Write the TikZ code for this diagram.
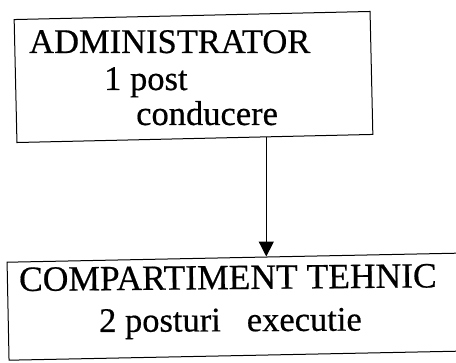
\documentclass[tikz,border=0pt]{standalone}
\usepackage{fontspec}
\setmainfont{Liberation Serif}[FakeBold=0.5]
\usetikzlibrary{arrows.meta,calc}
\begin{document}
\begin{tikzpicture}[x=1pt,y=-1pt,
  boxnode/.style={draw=black,line width=1pt,rectangle,inner sep=0pt},
  label/.style={anchor=base west,inner sep=0pt,font=\fontsize{34.5}{40}\selectfont},
  conn/.style={line width=1.3pt,-{Triangle[width=15pt,length=15pt]}}]
\useasboundingbox (0,0) rectangle (456,363);
\clip (0,0) rectangle (456,363);
\node[boxnode,minimum width=356pt,minimum height=123pt,rotate=1.3] (top) at (193.5,77) {};
\node[boxnode,minimum width=470pt,minimum height=98pt,rotate=1.15] (bot) at (243,306.5) {};
\node[label] (t1) at (29,53) {ADMINISTRATOR};
\node[label] (t2) at (104,90) {1 post};
\node[label] (t3) at (136,125) {conducere};
\node[label,font=\fontsize{35.5}{40}\selectfont,rotate=0.5] (b1) at (19,291) {COMPARTIMENT TEHNIC};
\node[label,rotate=0.3] (b2) at (99,332) {2 posturi\hspace{26pt}executie};
\coordinate (src) at ($(top.south west)!0.70!(top.south east)$);
\coordinate (dst) at ($(bot.north west)!0.549!(bot.north east)$);
\draw[conn] (src) -- (src |- dst);
\end{tikzpicture}
\end{document}
